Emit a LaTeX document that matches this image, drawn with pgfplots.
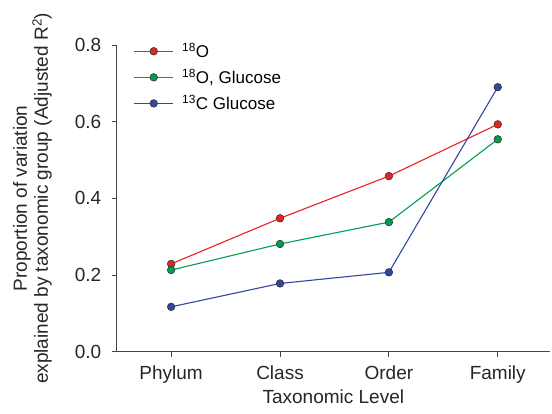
\documentclass[border=0pt]{standalone}
\usepackage{pgfplots}
\pgfplotsset{compat=1.18}
\usepackage{fontspec}
\setmainfont{Liberation Sans}
\definecolor{cred}{RGB}{232,34,38}
\definecolor{cgreen}{RGB}{0,158,80}
\definecolor{cblue}{RGB}{50,72,160}
\definecolor{axgray}{RGB}{70,70,70}
\begin{document}
\begin{tikzpicture}
\begin{axis}[
  at={(0,0)}, anchor=south west,
  scale only axis,
  width=433.3pt, height=306.7pt,
  xmin=-0.5, xmax=3.48,
  ymin=0, ymax=0.8,
  axis lines*=left,
  axis line style={axgray, line width=0.8pt},
  xtick={0,1,2,3},
  xticklabels={Phylum,Class,Order,Family},
  ytick={0,0.2,0.4,0.6,0.8},
  /pgf/number format/assume math mode=true,
  /pgf/number format/fixed,
  /pgf/number format/fixed zerofill,
  /pgf/number format/precision=1,
  tick align=outside,
  major tick length=5pt,
  tick style={axgray, line width=0.8pt},
  tick label style={font=\fontsize{19}{21}\selectfont, text=black!85},
  yticklabel style={xshift=-7pt},
  xticklabel style={yshift=-6pt},
  label style={font=\fontsize{19}{21}\selectfont, text=black!85},
  xlabel={Taxonomic Level},
  xlabel style={yshift=1pt},
  ylabel={Proportion of variation\\explained by taxonomic group (Adjusted R\textsuperscript{2})},
  ylabel style={align=center, at={(axis description cs:-0.1943,0.5)}, anchor=center},
  legend style={draw=none, fill=none, at={(axis description cs:0.04,1.013)}, anchor=north west,
    font=\fontsize{17}{19}\selectfont, row sep=6pt, inner sep=0pt},
  legend cell align=left,
  legend image code/.code={\path[draw=none,fill=none,use as bounding box] (0pt,-3pt) rectangle (46pt,3pt);\draw[mark repeat=2,mark phase=2,#1] plot coordinates {(0pt,0pt) (19.5pt,0pt) (39pt,0pt)};},
  every axis plot/.append style={line width=1.1pt, mark=*, mark size=3.8pt},
]
\addplot[cred, mark options={fill=cred, draw=black!80, line width=0.6pt}] coordinates {(0,0.229) (1,0.348) (2,0.458) (3,0.593)};
\addlegendentry{\textsuperscript{18}O}
\addplot[cgreen, mark options={fill=cgreen, draw=black!80, line width=0.6pt}] coordinates {(0,0.213) (1,0.281) (2,0.338) (3,0.554)};
\addlegendentry{\textsuperscript{18}O, Glucose}
\addplot[cblue, mark options={fill=cblue, draw=black!80, line width=0.6pt}] coordinates {(0,0.117) (1,0.178) (2,0.207) (3,0.690)};
\addlegendentry{\textsuperscript{13}C Glucose}
\end{axis}
\pgfresetboundingbox
\path (-116.7pt,-62.3pt) rectangle (435.3pt,351.7pt);
\end{tikzpicture}
\end{document}
